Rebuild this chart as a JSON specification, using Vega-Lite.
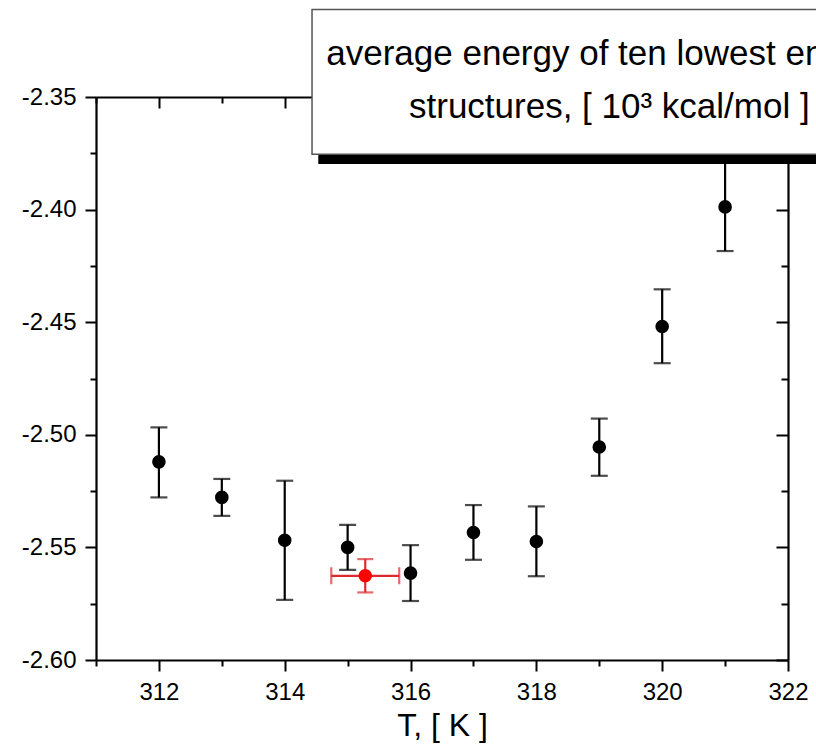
{
  "$schema": "https://vega.github.io/schema/vega-lite/v6.json",
  "width": 692,
  "height": 563,
  "autosize": {"type": "none"},
  "padding": {"left": 96, "top": 97, "right": 28, "bottom": 91},
  "background": "white",
  "config": {
    "view": {"stroke": null},
    "font": "Liberation Sans"
  },
  "datasets": {
    "black": [
      {"T": 312, "E": -2.512, "lo": -2.5278, "hi": -2.4967},
      {"T": 313, "E": -2.5278, "lo": -2.536, "hi": -2.5196},
      {"T": 314, "E": -2.5468, "lo": -2.5733, "hi": -2.5204},
      {"T": 315, "E": -2.55, "lo": -2.56, "hi": -2.54},
      {"T": 316, "E": -2.5614, "lo": -2.5738, "hi": -2.549},
      {"T": 317, "E": -2.5434, "lo": -2.5555, "hi": -2.5312},
      {"T": 318, "E": -2.5474, "lo": -2.5628, "hi": -2.5318},
      {"T": 319, "E": -2.5054, "lo": -2.5182, "hi": -2.4928},
      {"T": 320, "E": -2.4519, "lo": -2.4682, "hi": -2.4354},
      {"T": 321, "E": -2.3988, "lo": -2.4184, "hi": -2.3792}
    ],
    "red": [
      {"T": 315.28, "Tlo": 314.74, "Thi": 315.82, "E": -2.5626, "lo": -2.57, "hi": -2.5552}
    ],
    "box": [
      {"part": "shadow", "x1": 314.545, "x2": 323.7, "y1": -2.3152, "y2": -2.3794},
      {"part": "box", "x1": 314.434, "x2": 323.59, "y1": -2.3111, "y2": -2.3754}
    ],
    "label": [
      {"line": "average energy of ten lowest energy", "x": 319.16, "y": -2.3358},
      {"line": "structures, [ 10³ kcal/mol ]", "x": 319.16, "y": -2.3593}
    ]
  },
  "resolve": {"axis": {"x": "independent", "y": "independent"}},
  "layer": [
    {
      "data": {"name": "black"},
      "mark": {"type": "errorbar", "color": "black", "ticks": {"size": 17, "thickness": 2.2, "color": "black"}, "rule": {"strokeWidth": 2.2, "color": "black"}},
      "encoding": {
        "x": {"field": "T", "type": "quantitative", "scale": {"domain": [311, 322], "nice": false, "zero": false}, "axis": null},
        "y": {"field": "lo", "type": "quantitative", "scale": {"domain": [-2.6, -2.35], "nice": false, "zero": false}, "axis": null},
        "y2": {"field": "hi"}
      }
    },
    {
      "data": {"name": "black"},
      "mark": {"type": "circle", "size": 185, "color": "black", "opacity": 1},
      "encoding": {
        "x": {"field": "T", "type": "quantitative", "scale": {"domain": [311, 322], "nice": false, "zero": false},
          "axis": {"orient": "bottom", "values": [311, 312, 313, 314, 315, 316, 317, 318, 319, 320, 321, 322],
            "labelExpr": "datum.value % 2 == 0 ? datum.label : ''", "format": "d",
            "tickSize": {"condition": {"test": "datum.value % 2 == 0", "value": 11}, "value": 6},
            "tickWidth": 2, "tickColor": "black", "domainColor": "black", "domainWidth": 2.2,
            "labelFontSize": 24, "labelColor": "black", "labelFont": "Liberation Sans", "labelPadding": 9,
            "labelFlush": false, "labelOverlap": false, "grid": false,
            "title": "T, [ K ]", "titleFontSize": 32, "titleFont": "Liberation Sans", "titleFontWeight": "normal", "titleColor": "black", "titlePadding": 6}},
        "y": {"field": "E", "type": "quantitative", "scale": {"domain": [-2.6, -2.35], "nice": false, "zero": false},
          "axis": {"orient": "left", "values": [-2.6, -2.575, -2.55, -2.525, -2.5, -2.475, -2.45, -2.425, -2.4, -2.375, -2.35],
            "labelExpr": "abs(round(datum.value*1000)) % 50 == 0 ? '-' + format(abs(datum.value), '.2f') : ''",
            "tickSize": {"condition": {"test": "abs(round(datum.value*1000)) % 50 == 0", "value": 11}, "value": 6},
            "tickWidth": 2, "tickColor": "black", "domainColor": "black", "domainWidth": 2.2,
            "labelFontSize": 24, "labelColor": "black", "labelFont": "Liberation Sans", "labelPadding": 9,
            "labelFlush": false, "labelOverlap": false, "grid": false, "title": null}}
      }
    },
    {
      "data": {"name": "red"},
      "mark": {"type": "errorbar", "color": "#dc2a2f", "ticks": {"size": 16, "thickness": 2.2, "color": "#dc2a2f"}, "rule": {"strokeWidth": 2.2, "color": "#dc2a2f"}},
      "encoding": {
        "x": {"field": "T", "type": "quantitative", "scale": {"domain": [311, 322], "nice": false, "zero": false}, "axis": null},
        "y": {"field": "lo", "type": "quantitative", "scale": {"domain": [-2.6, -2.35], "nice": false, "zero": false}, "axis": null},
        "y2": {"field": "hi"}
      }
    },
    {
      "data": {"name": "red"},
      "mark": {"type": "errorbar", "color": "#dc2a2f", "ticks": {"size": 17, "thickness": 2.2, "color": "#dc2a2f"}, "rule": {"strokeWidth": 2.2, "color": "#dc2a2f"}},
      "encoding": {
        "x": {"field": "Tlo", "type": "quantitative", "scale": {"domain": [311, 322], "nice": false, "zero": false}, "axis": null},
        "x2": {"field": "Thi"},
        "y": {"field": "E", "type": "quantitative", "scale": {"domain": [-2.6, -2.35], "nice": false, "zero": false}, "axis": null}
      }
    },
    {
      "data": {"name": "red"},
      "mark": {"type": "circle", "size": 185, "color": "#ff0000", "opacity": 1},
      "encoding": {
        "x": {"field": "T", "type": "quantitative", "scale": {"domain": [311, 322], "nice": false, "zero": false},
          "axis": {"orient": "top", "values": [311, 312, 313, 314, 315, 316, 317, 318, 319, 320, 321, 322],
            "labels": false, "tickSize": {"condition": {"test": "datum.value % 2 == 0", "value": -11}, "value": -6},
            "tickWidth": 2, "tickColor": "black", "domainColor": "black", "domainWidth": 2.2, "grid": false, "title": null}},
        "y": {"field": "E", "type": "quantitative", "scale": {"domain": [-2.6, -2.35], "nice": false, "zero": false},
          "axis": {"orient": "right", "values": [-2.6, -2.575, -2.55, -2.525, -2.5, -2.475, -2.45, -2.425, -2.4, -2.375, -2.35],
            "labels": false, "tickSize": {"condition": {"test": "abs(round(datum.value*1000)) % 50 == 0", "value": -12}, "value": -7},
            "tickWidth": 2, "tickColor": "black", "domainColor": "black", "domainWidth": 2.2, "grid": false, "title": null}}
      }
    },
    {
      "data": {"name": "box"},
      "mark": {"type": "rect", "clip": false},
      "encoding": {
        "x": {"field": "x1", "type": "quantitative", "scale": {"domain": [311, 322], "nice": false, "zero": false}, "axis": null},
        "x2": {"field": "x2"},
        "y": {"field": "y1", "type": "quantitative", "scale": {"domain": [-2.6, -2.35], "nice": false, "zero": false}, "axis": null},
        "y2": {"field": "y2"},
        "fill": {"field": "part", "type": "nominal", "scale": {"domain": ["shadow", "box"], "range": ["black", "white"]}, "legend": null},
        "stroke": {"field": "part", "type": "nominal", "scale": {"domain": ["shadow", "box"], "range": ["black", "#555555"]}, "legend": null},
        "strokeWidth": {"value": 1.5}
      }
    },
    {
      "data": {"name": "label"},
      "mark": {"type": "text", "clip": false, "font": "Liberation Sans", "fontSize": 35, "align": "center", "baseline": "alphabetic", "color": "black"},
      "encoding": {
        "x": {"field": "x", "type": "quantitative", "scale": {"domain": [311, 322], "nice": false, "zero": false}, "axis": null},
        "y": {"field": "y", "type": "quantitative", "scale": {"domain": [-2.6, -2.35], "nice": false, "zero": false}, "axis": null},
        "text": {"field": "line", "type": "nominal"}
      }
    }
  ]
}
